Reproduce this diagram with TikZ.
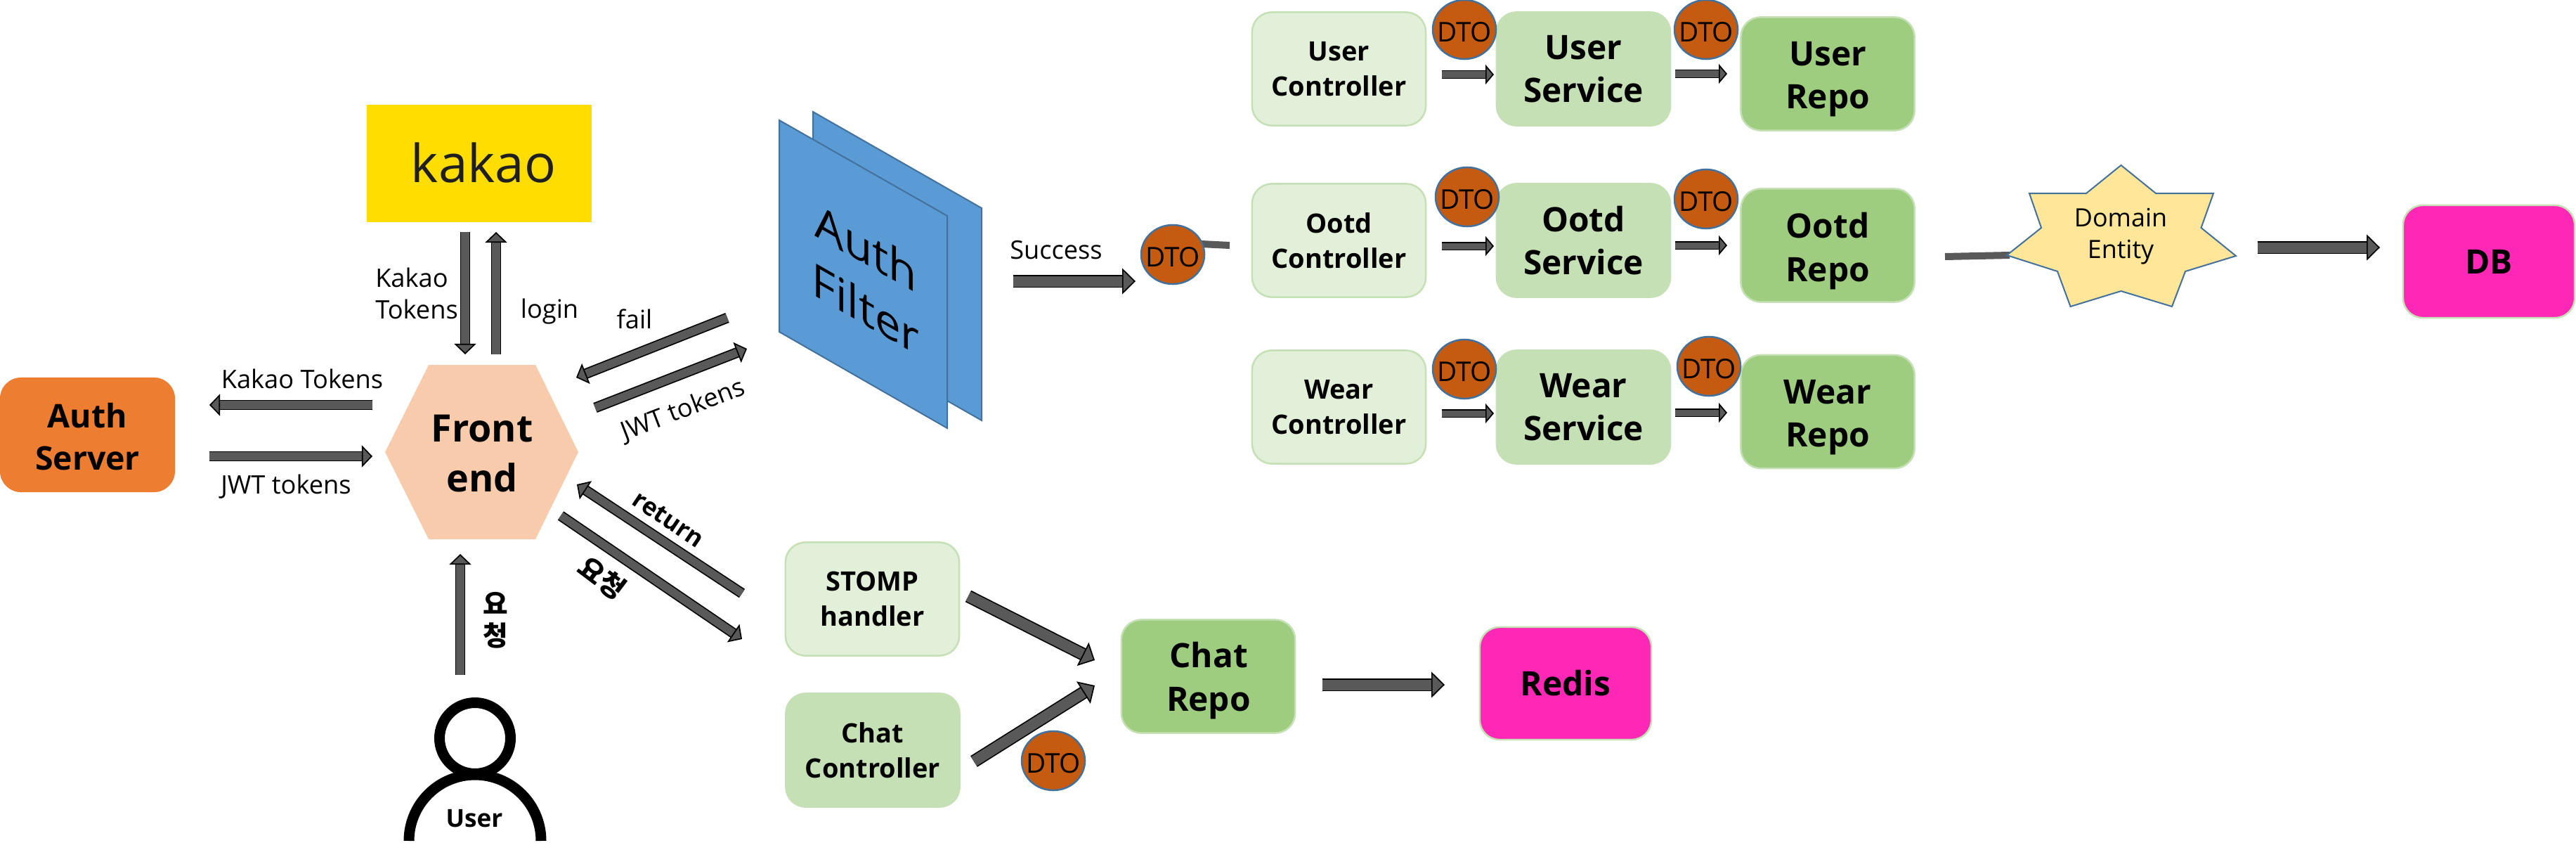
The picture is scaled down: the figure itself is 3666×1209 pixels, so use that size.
\documentclass[tikz,border=0pt]{standalone}
\usepackage{fontspec}
\setmainfont{Open Sans}
\newfontfamily\kr{Noto Sans CJK KR}
\usetikzlibrary{shapes.geometric,arrows.meta}
\definecolor{arrowgray}{HTML}{595959}
\definecolor{lightg}{HTML}{E2F0D9}
\definecolor{midg}{HTML}{C5E0B4}
\definecolor{darkg}{HTML}{9FCD7F}
\definecolor{pinkc}{HTML}{FF27B5}
\definecolor{orangec}{HTML}{ED7D31}
\definecolor{dtoc}{HTML}{C55A11}
\definecolor{edgeb}{HTML}{41719C}
\definecolor{bluef}{HTML}{5B9BD5}
\definecolor{peach}{HTML}{F8CBAD}
\definecolor{starf}{HTML}{FFE699}
\definecolor{kakaoy}{HTML}{FFDD00}
\newcommand{\dtotext}{\makebox[0pt][c]{\smash{\raisebox{-0.175cm}{DTO}}}}
\tikzset{
  barrow/.style n args={3}{draw=black,line width=0.017cm,double=arrowgray,double distance=#1,
    -{Triangle[length=#3,width=#2,fill=arrowgray,color=black,line width=0.017cm]}},
  arrowS/.style={barrow={0.09cm}{0.28cm}{0.12cm}},
  arrowM/.style={barrow={0.115cm}{0.31cm}{0.15cm}},
  arrowL/.style={barrow={0.15cm}{0.37cm}{0.19cm}},
  stub/.style={draw=arrowgray,line width=0.1cm},
  roundbox/.style={rectangle,rounded corners=0.28cm,align=center,inner sep=0pt,
    minimum width=2.47cm,minimum height=1.61cm,draw=midg,line width=0.025cm},
  smalltext/.style={font=\bfseries\fontsize{10.8}{14.2}\selectfont},
  bigtext/.style={font=\bfseries\fontsize{13.6}{17.4}\selectfont},
  ctrlbox/.style={roundbox,smalltext,fill=lightg},
  chatbox/.style={roundbox,smalltext,fill=midg},
  svcbox/.style={roundbox,bigtext,fill=midg},
  repobox/.style={roundbox,fill=darkg},
  repotext/.style={inner sep=0pt,align=center,bigtext},
  storebox/.style={roundbox,bigtext,fill=pinkc,minimum width=2.44cm,minimum height=1.6cm},
  dto/.style={ellipse,draw=edgeb,fill=dtoc,line width=0.025cm,inner sep=0pt,
    minimum width=0.9cm,minimum height=0.84cm,font=\fontsize{11}{12}\selectfont},
  lbl/.style={inner sep=0pt,align=center,font=\fontsize{10.3}{12.8}\selectfont},
  boldlbl/.style={inner sep=0pt,align=center,font=\bfseries\fontsize{10}{12.8}\selectfont},
  krlbl/.style={inner sep=0pt,align=center,font=\kr\bfseries\fontsize{11}{12.8}\selectfont},
  sheet/.style={draw=edgeb,fill=bluef,line width=0.02cm},
  person/.style={draw=black,line width=0.15cm}
}
\newcommand{\flowarrow}[4]{%
  \coordinate (#2-s) at (#3);\coordinate (#2-e) at (#4);
  \draw[#1] (#2-s) -- (#2-e);}
\begin{document}
\begin{tikzpicture}[x=0.01cm,y=-0.01cm]
\useasboundingbox (0,0) rectangle (3666,1209);

% kakao
\node[rectangle,fill=kakaoy,inner sep=0pt,minimum width=3.2cm,minimum height=1.67cm] (kakao) at (682,232.5) {};
\node[inner sep=0pt,text=black!88,font=\fontsize{21.2}{24}\selectfont] (kakaotxt) at (688,232) {kakao};

% auth server
\node[rectangle,rounded corners=0.3cm,fill=orangec,inner sep=0pt,minimum width=2.49cm,minimum height=1.63cm] (auth) at (124.5,618.5) {};
\node[inner sep=0pt,align=center,font=\bfseries\fontsize{13.2}{17.2}\selectfont] (authtxt) at (124.5,621) {Auth\\Server};

% front end hexagon
\path[fill=peach] (610,519) -- (762,519) -- (823,643) -- (762,767) -- (610,767) -- (548,643) -- cycle;
\node[inner sep=0pt,align=center,font=\bfseries\fontsize{15.3}{20.4}\selectfont] (front) at (686,645) {Front\\end};

% Auth filter sheets
\path[sheet] (1157,159) -- (1397,296) -- (1397,598) -- (1157,461) -- cycle;
\path[sheet] (1109,171) -- (1348,307) -- (1348,609) -- (1109,472) -- cycle;
\begin{scope}[shift={(1232,395)},cm={1,-0.57,0,1,(0,0)}]
  \node[transform shape,inner sep=0pt,align=center,font=\fontsize{18.6}{24.5}\selectfont] (filter) at (0,0) {Auth\\Filter};
\end{scope}

% controllers / services / repos
\node[ctrlbox] (uc) at (1905.5,98) {User\\Controller};
\node[ctrlbox] (oc) at (1905.5,342) {Ootd\\Controller};
\node[ctrlbox] (wc) at (1905.5,579) {Wear\\Controller};
\node[svcbox] (us) at (2253.5,98) {User\\Service};
\node[svcbox] (os) at (2253.5,342) {Ootd\\Service};
\node[svcbox] (ws) at (2253.5,579) {Wear\\Service};
\node[repobox] (ur) at (2601,105) {};
\node[repotext] (urt) at (2601,113) {User\\Repo};
\node[repobox] (or) at (2601,349) {};
\node[repotext] (ort) at (2601,357) {Ootd\\Repo};
\node[repobox] (wr) at (2601,585.5) {};
\node[repotext] (wrt) at (2601,594) {Wear\\Repo};

% chat
\node[ctrlbox] (stomp) at (1241.5,852) {STOMP\\handler};
\node[chatbox] (cc) at (1242,1067) {Chat\\Controller};
\node[repobox] (cr) at (1719.5,962) {};
\node[repotext] (crt) at (1720,968) {Chat\\Repo};
\node[storebox] (redis) at (2228,972) {Redis};
\node[storebox] (db) at (3542,372) {DB};

% stubs behind shapes
\coordinate (stubA-s) at (1669,345);
\coordinate (stubA-e) at (1750,349);
\draw[stub] (stubA-s) -- (stubA-e);
\coordinate (star-w) at (2860,363);
\coordinate (stubB-s) at (2768,365);
\draw[stub] (stubB-s) -- (star-w);

% DTO ellipses
\node[dto] (d0) at (1669,362) {\dtotext};
\node[dto] (d1) at (2084,42) {\dtotext};
\node[dto] (d2) at (2428,42) {\dtotext};
\node[dto] (d3) at (2088,280) {\dtotext};
\node[dto] (d4) at (2428,283) {\dtotext};
\node[dto] (d5) at (2084,525) {\dtotext};
\node[dto] (d6) at (2432,521) {\dtotext};
\node[dto] (d7) at (1499,1082) {\dtotext};

% star
\path[draw=edgeb,fill=starf,line width=0.02cm] (3018.5,235) -- (3068,275) -- (3150,275) -- (3132.5,324) -- (3182,364)
  -- (3110,386) -- (3091,436) -- (3018.5,414) -- (2946.5,436) -- (2928,386) -- (2856,363) -- (2905,324) -- (2888,275) -- (2969,275) -- cycle;
\node[inner sep=0pt,align=center,font=\fontsize{10.2}{13}\selectfont] (domain) at (3018,336) {Domain\\Entity};

% arrows
\flowarrow{arrowM}{a1}{662,330}{662,504}
\flowarrow{arrowM}{a2}{706,504}{706,330}
\flowarrow{arrowM}{a3}{1035,452}{820,537}
\flowarrow{arrowM}{a4}{847,580}{1063,496}
\flowarrow{arrowM}{a5}{530,576}{298,576}
\flowarrow{arrowM}{a6}{298,649}{530,649}
\flowarrow{arrowM}{a7}{1056,844}{821,689}
\flowarrow{arrowM}{a8}{798,733.5}{1056,909}
\flowarrow{arrowM}{a9}{655,960}{655,788}
\flowarrow{arrowL}{a10}{1378,848}{1558,939}
\flowarrow{arrowL}{a11}{1386,1083}{1558,975}
\flowarrow{arrowL}{a12}{1882,974}{2056,974}
\flowarrow{arrowL}{a13}{1442,400}{1616,400}
\flowarrow{arrowL}{a14}{3213,352}{3387,352}
\flowarrow{arrowS}{b1}{2052,106}{2126,106}
\flowarrow{arrowS}{b2}{2384,105}{2458,105}
\flowarrow{arrowS}{b3}{2052,350}{2126,350}
\flowarrow{arrowS}{b4}{2384,349}{2458,349}
\flowarrow{arrowS}{b5}{2052,588}{2126,588}
\flowarrow{arrowS}{b6}{2384,587}{2458,587}

% labels
\node[lbl,align=left] (l1) at (593,417) {Kakao\\Tokens};
\node[lbl] (l2) at (782,443) {login};
\node[lbl] (l3) at (903,454) {fail};
\node[lbl,rotate=21] (l4) at (972,584) {JWT tokens};
\node[lbl] (l5) at (430,539) {Kakao Tokens};
\node[lbl] (l6) at (407,692) {JWT tokens};
\node[lbl] (l7) at (1503,356) {Success};
\node[boldlbl,rotate=-34] (l8) at (951,739) {return};
\node[krlbl,rotate=-37] (l9) at (857,822) {요청};
\node[krlbl] (l10) at (705,882) {요\\청};

% user icon
\draw[person] (676,1050) circle [radius=50.5];
\draw[person] (582,1196) arc [start angle=180,end angle=360,radius=94];
\node[boldlbl] (usertxt) at (675,1164) {User};
\end{tikzpicture}
\end{document}
